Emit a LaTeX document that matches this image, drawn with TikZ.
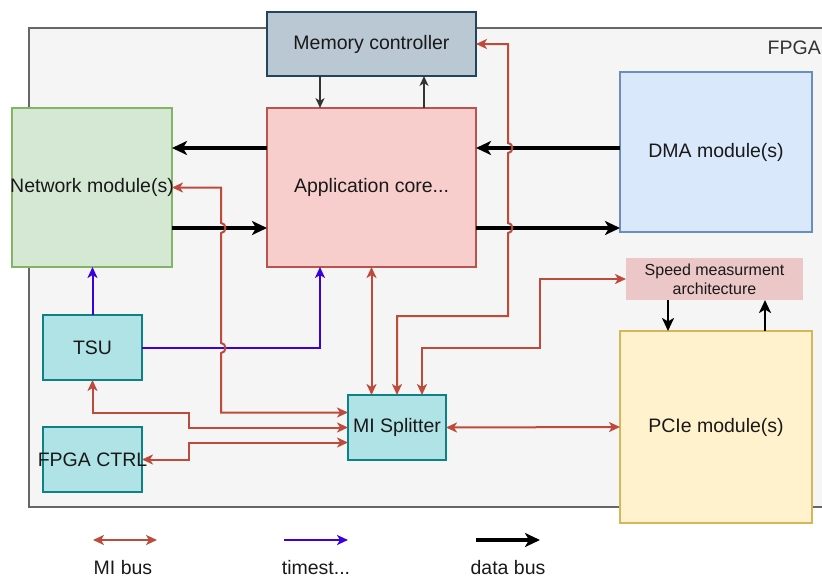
\documentclass[tikz,border=0pt]{standalone}
\usepackage{fontspec}
\setmainfont{Liberation Sans}
\usepackage{xcolor}
\usepackage{tikz}
\usetikzlibrary{calc, positioning, arrows.meta}

\definecolor{fpgabg}{HTML}{F5F5F5}
\definecolor{fpgaline}{HTML}{666666}
\definecolor{memfill}{HTML}{BAC8D3}
\definecolor{memline}{HTML}{23445D}
\definecolor{appfill}{HTML}{F8CECC}
\definecolor{appline}{HTML}{B85450}
\definecolor{netfill}{HTML}{D5E8D4}
\definecolor{netline}{HTML}{82B366}
\definecolor{dmafill}{HTML}{DAE8FC}
\definecolor{dmaline}{HTML}{6C8EBF}
\definecolor{pciefill}{HTML}{FFF2CC}
\definecolor{pcieline}{HTML}{D6B656}
\definecolor{tealfill}{HTML}{B0E3E6}
\definecolor{tealline}{HTML}{0E8088}
\definecolor{speedfill}{HTML}{EBC7C8}
\definecolor{mired}{HTML}{BE4A3B}
\definecolor{tsblue}{HTML}{3A00E0}

\tikzset{
    block/.style={draw, line width=1.5pt, anchor=north west, inner sep=0pt, outer sep=0pt,
        font=\fontsize{19.5}{23}\selectfont, align=center, text=black!90},
    mibus/.style={mired, line width=2pt, {Stealth[length=11pt,width=10pt,inset=3pt]}-{Stealth[length=11pt,width=10pt,inset=3pt]}},
    tsline/.style={tsblue, line width=2pt, -{Stealth[length=11pt,width=10pt,inset=3pt]}},
    databus/.style={black, line width=3.2pt, -{Stealth[length=15pt,width=14pt,inset=4pt]}},
    ctrlbus/.style={black!80, line width=1.8pt, -{Stealth[length=10pt,width=9pt,inset=3pt]}},
    speedbus/.style={black, line width=2.6pt, -{Stealth[length=13pt,width=12pt,inset=3.5pt]}},
    hopr/.style={out=0, in=0, looseness=1.5},
    legend/.style={font=\fontsize{19.5}{23}\selectfont, text=black!90, inner sep=0pt}
}

\begin{document}
\begin{tikzpicture}[x=1pt, y=-1pt]
        \useasboundingbox (0,0) rectangle (822,579);
        \clip (0,0) rectangle (822,579);
        \fill[fpgabg] (29,28) rectangle (822,507);
        \draw[fpgaline, line width=1.6pt] (822,28) -- (29,28) -- (29,507) -- (822,507);
        \node[legend, anchor=east, text=black!80] (fpga) at (821,48) {FPGA};

        \node[block, fill=memfill, draw=memline, minimum width=209pt, minimum height=64pt] (mem) at (267,12) {Memory controller};
        \node[block, fill=appfill, draw=appline, minimum width=209pt, minimum height=159pt] (app) at (267,108) {Application core...};
        \node[block, fill=netfill, draw=netline, minimum width=160pt, minimum height=159pt] (net) at (12,108) {\makebox[0pt]{Network module(s)}};
        \node[block, fill=dmafill, draw=dmaline, minimum width=192pt, minimum height=160pt] (dma) at (620,72) {DMA module(s)};
        \node[block, fill=speedfill, draw=none, minimum width=177pt, minimum height=42pt,
            font=\fontsize{16}{19}\selectfont] (speed) at (626,258) {Speed measurment\\architecture};
        \node[block, fill=pciefill, draw=pcieline, minimum width=192pt, minimum height=192pt] (pcie) at (620,331) {PCIe module(s)};
        \node[block, fill=tealfill, draw=tealline, minimum width=99pt, minimum height=65pt] (tsu) at (43,315) {TSU};
        \node[block, fill=tealfill, draw=tealline, minimum width=99pt, minimum height=65pt] (ctrl) at (43,427) {\makebox[0pt]{FPGA CTRL}};
        \node[block, fill=tealfill, draw=tealline, minimum width=98pt, minimum height=65pt] (split) at (348,395) {MI Splitter};

        \coordinate (r1) at (0,148);
        \coordinate (r2) at (0,228);

        \draw[ctrlbus] ([xshift=53pt]mem.south west) -- ([xshift=53pt]app.north west);
        \draw[ctrlbus] ([xshift=-52pt]app.north east) -- ([xshift=-52pt]mem.south east);

        \draw[databus] (app.west |- r1) -- (net.east |- r1);
        \draw[databus] (net.east |- r2) -- (app.west |- r2);
        \draw[databus] (dma.west |- r1) -- (app.east |- r1);
        \draw[databus] (app.east |- r2) -- (dma.west |- r2);

        \draw[speedbus] ([xshift=42pt]speed.south west) -- ([xshift=42pt]speed.south west |- pcie.north);
        \draw[speedbus] ([xshift=-47pt]pcie.north east) -- ([xshift=-47pt]pcie.north east |- speed.south);

        \draw[tsline] (tsu.north) -- (tsu.north |- net.south);
        \draw[tsline] (tsu.east) -| ([xshift=53pt]app.south west);

        \draw[mibus] (net.east) -- (221,187.5) -- (221,223) to[hopr] (221,233) -- (221,343) to[hopr] (221,353)
            -- (221,412.5) -- ([yshift=15pt]split.west);
        \draw[mibus] (tsu.south) |- (189,412.5) |- (split.west);
        \draw[mibus] (ctrl.east) -| (189,442.5) -- ([yshift=-15pt]split.west);
        \draw[mibus] (app.south) -- (app.south |- split.north);
        \draw[mibus] (mem.east) -- (508,44) -- (508,143) to[hopr] (508,153) -- (508,223) to[hopr] (508,233)
            -- (508,316) -| (split.north);
        \draw[mibus] ([xshift=25pt]split.north) |- (540,348) |- (speed.west);
        \draw[mibus] (split.east) -- (pcie.west);

        \coordinate (mi1) at (93,540);
        \coordinate (mi2) at (157,540);
        \coordinate (ts1) at (284,540);
        \coordinate (ts2) at (348,540);
        \coordinate (db1) at (476,540);
        \coordinate (db2) at (540,540);
        \draw[mibus] (mi1) -- (mi2);
        \draw[tsline] (ts1) -- (ts2);
        \draw[databus] (db1) -- (db2);
        \node[legend] (lmi) at (123,568) {MI bus};
        \node[legend] (lts) at (316,568) {timest...};
        \node[legend] (ldb) at (508,568) {data bus};
    \end{tikzpicture}
\end{document}
